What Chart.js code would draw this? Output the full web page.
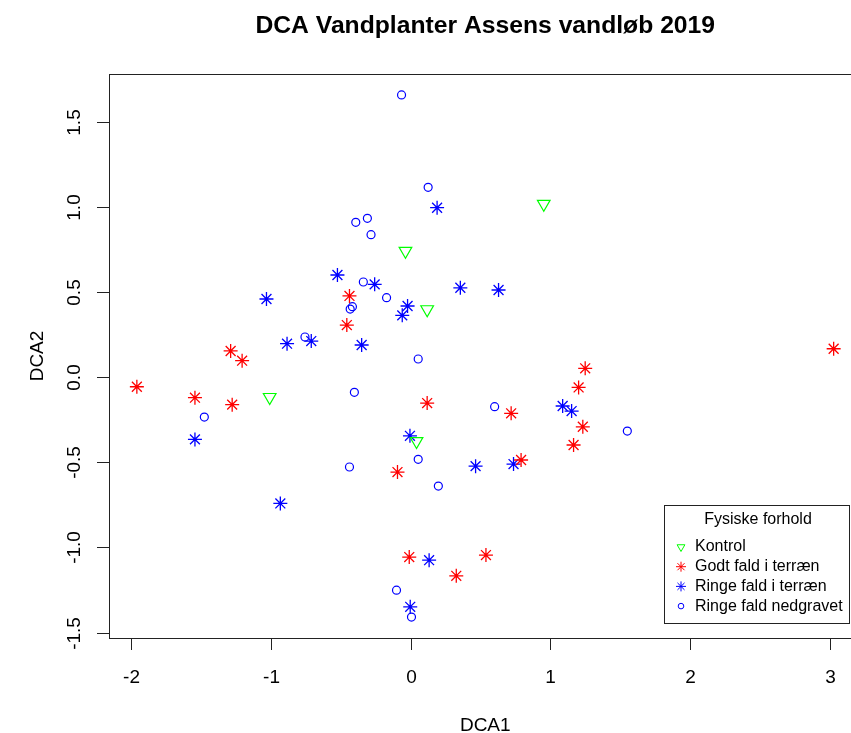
<!DOCTYPE html>
<html>
<head>
<meta charset="utf-8">
<title>DCA Vandplanter Assens vandløb 2019</title>
<script src="https://cdn.jsdelivr.net/npm/chart.js@4.4.1/dist/chart.umd.min.js"></script>
<style>
  html, body { margin: 0; padding: 0; background: #fff; overflow: hidden; }
  #wrap { width: 851px; height: 733px; overflow: hidden; }
</style>
</head>
<body>
<div id="wrap"><canvas id="dca" width="870" height="733"></canvas></div>
<script>
'use strict';

// site scores, one pair of arrays per group
const kontrolX = [-0.036, 0.119, 0.952, -1.006, 0.043];
const kontrolY = [0.740, 0.397, 1.016, -0.118, -0.377];

const godtX = [-0.436, -0.455, -1.285, -1.203, 3.023, -1.955, -1.540, -1.274, 0.119, -0.093,
  -0.009, 0.327, 0.539, 0.719, 1.248, 1.201, 1.231, 1.165, 0.790];
const godtY = [0.476, 0.305, 0.153, 0.096, 0.166, -0.057, -0.121, -0.162, -0.153, -0.558,
  -1.057, -1.167, -1.045, -0.213, 0.051, -0.061, -0.292, -0.399, -0.487];

const ringeX = [0.190, -0.522, -0.256, 0.356, -0.021, -0.059, -1.029, -0.709, -0.882, -0.349,
  0.629, -1.540, -0.004, 0.465, -0.930, 0.133, -0.002, 1.087, 1.151, 0.736];
const ringeY = [0.994, 0.599, 0.544, 0.524, 0.417, 0.362, 0.458, 0.211, 0.196, 0.188,
  0.511, -0.366, -0.345, -0.523, -0.742, -1.075, -1.349, -0.170, -0.200, -0.511];

const nedgravetX = [-0.064, 0.126, -0.391, -0.308, -0.282, -0.337, -0.171, -0.415, -0.431, -0.754,
  0.055, -1.473, -0.401, 0.055, -0.436, 0.199, -0.100, 0.007, 0.601, 1.549];
const nedgravetY = [1.656, 1.114, 0.908, 0.932, 0.836, 0.558, 0.466, 0.413, 0.399, 0.235,
  0.106, -0.235, -0.090, -0.483, -0.528, -0.640, -1.251, -1.409, -0.174, -0.317];

const groupLabels = ['Kontrol', 'Godt fald i terræn', 'Ringe fald i terræn', 'Ringe fald nedgravet'];
const xTicks = [-2, -1, 0, 1, 2, 3];
const yTicks = [-1.5, -1.0, -0.5, 0.0, 0.5, 1.0, 1.5];

const FONT = '"Liberation Sans", Arial, sans-serif';

const toPoints = function (xs, ys) {
  return xs.map((x, i) => ({ x: x, y: ys[i] }));
};

// R-style frame, ticks, labels and legend
const rFrame = {
  id: 'rFrame',
  beforeDraw(chart) {
    const ctx = chart.ctx;
    ctx.save();
    ctx.fillStyle = '#fff';
    ctx.fillRect(0, 0, chart.width, chart.height);
    ctx.restore();
  },
  afterDraw(chart) {
    const ctx = chart.ctx;
    const a = chart.chartArea;
    const sx = chart.scales.x, sy = chart.scales.y;
    ctx.save();
    ctx.strokeStyle = '#222';
    ctx.lineWidth = 1;
    ctx.strokeRect(a.left + 0.5, a.top + 0.5, a.right - a.left, a.bottom - a.top);

    ctx.fillStyle = '#000';
    ctx.font = '19px ' + FONT;
    ctx.textAlign = 'center';
    ctx.textBaseline = 'alphabetic';
    for (const v of xTicks) {
      const px = Math.round(sx.getPixelForValue(v)) + 0.5;
      ctx.beginPath();
      ctx.moveTo(px, a.bottom);
      ctx.lineTo(px, a.bottom + 12);
      ctx.stroke();
      ctx.fillText(String(v), px, 683);
    }
    for (const v of yTicks) {
      const py = Math.round(sy.getPixelForValue(v)) + 0.5;
      ctx.beginPath();
      ctx.moveTo(a.left, py);
      ctx.lineTo(a.left - 12, py);
      ctx.stroke();
      ctx.save();
      ctx.translate(80, py);
      ctx.rotate(-Math.PI / 2);
      ctx.fillText(v.toFixed(1), 0, 0);
      ctx.restore();
    }

    // axis titles and main title
    const midX = (a.left + a.right) / 2;
    const midY = (a.top + a.bottom) / 2;
    ctx.fillText('DCA1', midX, 731);
    ctx.save();
    ctx.translate(43, midY);
    ctx.rotate(-Math.PI / 2);
    ctx.fillText('DCA2', 0, 0);
    ctx.restore();
    ctx.font = 'bold 24.7px ' + FONT;
    ctx.fillText('DCA Vandplanter Assens vandløb 2019', midX, 33);

    // legend box
    ctx.fillStyle = '#fff';
    ctx.fillRect(664.5, 505.5, 185, 118);
    ctx.strokeRect(664.5, 505.5, 185, 118);
    ctx.fillStyle = '#000';
    ctx.font = '16px ' + FONT;
    ctx.textBaseline = 'middle';
    ctx.fillText('Fysiske forhold', 758, 520);
    ctx.textAlign = 'left';
    const legendSizes = [4.5, 5, 5, 2.8];
    chart.data.datasets.forEach((ds, i) => {
      const ly = 547 + i * 19.7;
      ctx.strokeStyle = ds.borderColor;
      ctx.fillStyle = 'rgba(0,0,0,0)';
      Chart.helpers.drawPoint(ctx, {
        pointStyle: ds.pointStyle,
        radius: legendSizes[i],
        rotation: ds.rotation || 0,
        borderWidth: 1
      }, 681, ly);
      ctx.fillStyle = '#000';
      ctx.fillText(ds.label, 695, ly);
    });
    ctx.restore();
  }
};

const loadChart = function () {
  const ctx = document.getElementById('dca').getContext('2d');
  new Chart(ctx, {
    type: 'scatter',
    data: {
      datasets: [{
        label: groupLabels[0],
        data: toPoints(kontrolX, kontrolY),
        pointStyle: 'triangle',
        rotation: 180,
        pointRadius: 7.3,
        borderColor: '#00ff00',
        backgroundColor: 'rgba(0,0,0,0)',
        borderWidth: 1.2
      }, {
        label: groupLabels[1],
        data: toPoints(godtX, godtY),
        pointStyle: 'star',
        pointRadius: 7,
        borderColor: '#ff0000',
        backgroundColor: 'rgba(0,0,0,0)',
        borderWidth: 1.3
      }, {
        label: groupLabels[2],
        data: toPoints(ringeX, ringeY),
        pointStyle: 'star',
        pointRadius: 7,
        borderColor: '#0000ff',
        backgroundColor: 'rgba(0,0,0,0)',
        borderWidth: 1.3
      }, {
        label: groupLabels[3],
        data: toPoints(nedgravetX, nedgravetY),
        pointStyle: 'circle',
        pointRadius: 4,
        borderColor: '#0000ff',
        backgroundColor: 'rgba(0,0,0,0)',
        borderWidth: 1.2
      }]
    },
    options: {
      responsive: false,
      animation: false,
      events: [],
      layout: { padding: { left: 109, top: 74, right: 5, bottom: 95 } },
      scales: {
        x: { type: 'linear', display: false, min: -2.154, max: 3.222 },
        y: { type: 'linear', display: false, min: -1.532, max: 1.779 }
      },
      plugins: {
        legend: { display: false },
        tooltip: { enabled: false }
      }
    },
    plugins: [rFrame]
  });
};

document.addEventListener('DOMContentLoaded', function () {
  loadChart();
});
</script>
</body>
</html>
